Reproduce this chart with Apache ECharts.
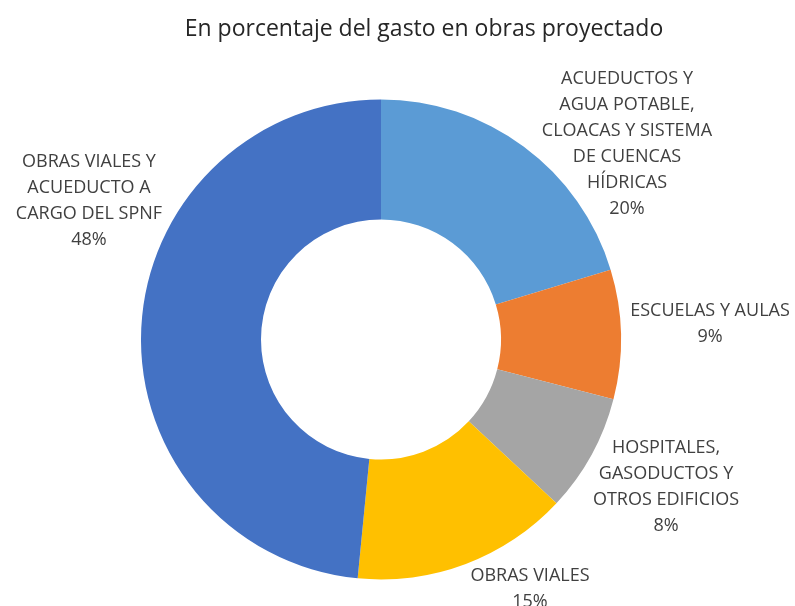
<!DOCTYPE html>
<html>
<head>
<meta charset="utf-8">
<script src="https://cdn.jsdelivr.net/npm/echarts@6/dist/echarts.min.js"></script>
<style>
  html, body { margin: 0; padding: 0; background: #fff; }
  #chart { width: 795px; height: 606px; }
</style>
</head>
<body>
<div id="chart"></div>
<script>
// categorias (sentido horario desde las 12)
const categories = [
  "ACUEDUCTOS Y\nAGUA POTABLE,\nCLOACAS Y SISTEMA\nDE CUENCAS\nHÍDRICAS",
  "ESCUELAS Y AULAS",
  "HOSPITALES,\nGASODUCTOS Y\nOTROS EDIFICIOS",
  "OBRAS VIALES",
  "OBRAS VIALES Y\nACUEDUCTO A\nCARGO DEL SPNF"
];
const values = [20.3, 8.7, 7.95, 14.6, 48.45];
const colors = ["#5B9BD5", "#ED7D31", "#A5A5A5", "#FFC000", "#4472C4"];

// label centers, same order as categories
const labelPos = [[627, 144], [710, 324], [666, 487], [530, 589], [89, 201]];

const chart = echarts.init(document.getElementById("chart"));

const option = {
  animation: false,
  title: {
    text: "En porcentaje del gasto en obras proyectado",
    left: 419,
    textAlign: "center",
    top: 13,
    textStyle: {
      fontFamily: "Open Sans",
      fontSize: 23,
      fontWeight: "normal",
      color: "#262626"
    }
  },
  series: [
    {
      type: "pie",
      center: [381, 339.5],
      radius: [120, 240],
      startAngle: 90,
      clockwise: true,
      silent: true,
      data: categories.map((name, i) => ({
        name: name,
        value: values[i],
        itemStyle: { color: colors[i] }
      })),
      label: {
        show: true,
        position: "outside",
        formatter: p => p.name + "\n" + Math.round(p.percent) + "%",
        fontFamily: "Open Sans",
        fontSize: 18,
        lineHeight: 26,
        color: "#404040",
        align: "center",
        overflow: "none",
        width: 300
      },
      labelLine: { show: false },
      labelLayout: p => ({
        x: labelPos[p.dataIndex][0],
        y: labelPos[p.dataIndex][1],
        align: "center",
        verticalAlign: "middle"
      })
    }
  ]
};

chart.setOption(option);
</script>
</body>
</html>
